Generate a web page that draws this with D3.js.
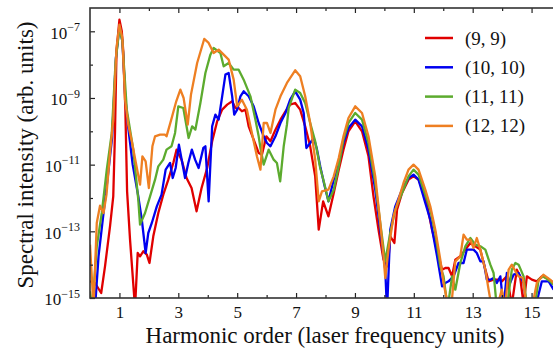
<!DOCTYPE html>
<html>
<head>
<meta charset="utf-8">
<script src="https://cdn.jsdelivr.net/npm/d3@7"></script>
<style>
  body { margin: 0; background: #fff; }
  svg text { font-family: "Liberation Serif", "Times New Roman", serif; fill: #111; }
</style>
</head>
<body>
<svg width="553" height="351"></svg>
<script>
// DATA: harmonic order and log10 of spectral intensity

const labels = ["(9, 9)", "(10, 10)", "(11, 11)", "(12, 12)"];
const colors = ["#e00000", "#0000f0", "#5cab2e", "#ee7f22"];

const redX = [0, 0.17, 0.38, 0.51, 0.68, 0.79, 0.85, 0.9, 1.0, 1.08, 1.13, 1.2, 1.26, 1.36, 1.53, 1.62, 1.7, 1.81, 1.93, 2.02, 2.15, 2.32, 2.49, 2.66, 2.83, 2.94, 3.11, 3.28, 3.45, 3.62, 3.79, 3.98, 4.15, 4.32, 4.49, 4.66, 4.83, 4.94, 5.05, 5.16, 5.28, 5.39, 5.56, 5.73, 5.84, 5.99, 6.13, 6.3, 6.47, 6.64, 6.8, 6.97, 7.14, 7.31, 7.48, 7.65, 7.77, 7.92, 8.1, 8.28, 8.45, 8.61, 8.78, 9.01, 9.24, 9.46, 9.63, 9.8, 9.97, 10.12, 10.2, 10.34, 10.43, 10.6, 10.82, 10.99, 11.16, 11.39, 11.62, 11.79, 11.96, 12.07, 12.18, 12.3, 12.41, 12.58, 12.75, 12.92, 13.09, 13.26, 13.37, 13.54, 13.71, 13.88, 13.99, 14.16, 14.33, 14.5, 14.61, 14.73, 14.84, 15.01, 15.18, 15.35, 15.52, 15.75];
const redLog = [-14.5, -14.55, -14.85, -14.05, -12.85, -11.95, -10.0, -7.6, -6.65, -7.0, -7.6, -9.3, -11.8, -13.25, -15.3, -13.65, -13.75, -13.6, -13.7, -13.95, -13.15, -12.45, -11.9, -11.45, -10.95, -10.55, -10.85, -11.4, -11.7, -12.4, -11.7, -11.1, -10.3, -9.7, -9.35, -9.2, -9.1, -9.3, -9.3, -9.4, -9.35, -9.85, -10.25, -10.65, -10.7, -10.15, -10.3, -9.95, -9.65, -9.4, -9.2, -9.15, -9.35, -9.85, -10.45, -11.35, -12.95, -12.1, -12.55, -11.85, -11.15, -10.55, -10.0, -9.7, -10.0, -10.75, -11.95, -12.95, -13.85, -14.05, -13.15, -13.35, -12.35, -11.85, -11.45, -11.35, -11.45, -11.95, -12.95, -13.55, -14.15, -14.1, -14.1, -14.35, -13.85, -13.75, -13.55, -13.35, -13.45, -13.55, -13.95, -14.5, -14.45, -14.45, -14.5, -14.35, -15.2, -14.15, -14.35, -15.2, -14.35, -14.45, -14.5, -14.35, -14.4, -14.55];

const blueX = [0, 0.17, 0.29, 0.46, 0.6, 0.75, 0.88, 1.0, 1.1, 1.2, 1.3, 1.45, 1.64, 1.76, 1.89, 1.98, 2.1, 2.27, 2.43, 2.57, 2.72, 2.81, 2.91, 3.02, 3.23, 3.34, 3.46, 3.57, 3.69, 3.85, 3.92, 4.03, 4.15, 4.26, 4.37, 4.49, 4.6, 4.71, 4.83, 4.9, 5.0, 5.11, 5.22, 5.39, 5.56, 5.73, 5.9, 6.01, 6.13, 6.3, 6.47, 6.64, 6.8, 6.97, 7.14, 7.26, 7.35, 7.48, 7.6, 7.7, 7.82, 7.96, 8.1, 8.28, 8.45, 8.61, 8.78, 9.01, 9.24, 9.46, 9.69, 9.86, 10.03, 10.09, 10.2, 10.37, 10.6, 10.82, 10.99, 11.16, 11.39, 11.56, 11.79, 11.96, 12.07, 12.18, 12.35, 12.52, 12.69, 12.8, 12.92, 13.03, 13.14, 13.26, 13.37, 13.48, 13.6, 13.71, 13.82, 13.94, 14.05, 14.16, 14.27, 14.39, 14.56, 14.73, 14.84, 15.18, 15.35, 15.58, 15.75];
const blueLog = [-15.5, -15.3, -13.75, -12.45, -11.4, -10.2, -7.8, -6.85, -7.3, -9.0, -9.9, -11.0, -11.95, -12.65, -13.65, -13.05, -12.75, -12.25, -11.9, -11.15, -10.95, -11.4, -11.1, -10.4, -11.4, -10.95, -10.55, -10.85, -11.1, -10.5, -10.45, -12.1, -9.85, -9.5, -9.65, -8.95, -8.3, -8.25, -8.95, -9.5, -9.35, -8.95, -8.8, -8.95, -9.25, -9.75, -10.15, -10.35, -10.45, -10.15, -9.75, -9.45, -9.05, -8.8, -9.05, -9.45, -10.5, -10.35, -10.2, -10.5, -11.05, -11.6, -12.1, -11.45, -10.95, -10.35, -9.9, -9.65, -9.85, -10.55, -11.75, -12.95, -14.15, -15.4, -12.95, -12.25, -11.75, -11.4, -11.3, -11.45, -12.15, -12.65, -13.75, -14.65, -14.55, -14.5, -14.35, -13.95, -13.95, -13.55, -13.55, -13.55, -13.65, -13.9, -13.9, -14.45, -14.45, -14.4, -14.55, -14.35, -15.3, -14.25, -14.55, -14.3, -14.25, -14.55, -15.3, -15.1, -14.5, -14.5, -14.75];

const greenX = [0, 0.08, 0.23, 0.4, 0.57, 0.74, 0.87, 1.0, 1.1, 1.25, 1.47, 1.64, 1.7, 1.87, 2.04, 2.21, 2.32, 2.49, 2.6, 2.77, 2.89, 3.0, 3.17, 3.35, 3.47, 3.58, 3.75, 3.92, 4.09, 4.2, 4.43, 4.54, 4.71, 4.88, 5.05, 5.22, 5.45, 5.62, 5.73, 5.79, 5.9, 6.07, 6.24, 6.35, 6.46, 6.58, 6.69, 6.75, 6.97, 7.14, 7.31, 7.48, 7.65, 7.82, 7.94, 8.1, 8.28, 8.45, 8.61, 8.78, 9.01, 9.24, 9.46, 9.69, 9.86, 10.03, 10.2, 10.37, 10.6, 10.82, 10.99, 11.16, 11.39, 11.56, 11.73, 11.9, 12.01, 12.15, 12.3, 12.41, 12.58, 12.75, 12.92, 13.09, 13.26, 13.43, 13.6, 13.71, 13.82, 14.16, 14.33, 14.45, 14.56, 14.73, 14.84, 15.1, 15.24, 15.4, 15.63, 15.75];
const greenLog = [-14.8, -15.3, -13.45, -12.45, -11.15, -10.05, -7.9, -6.9, -7.3, -9.35, -10.55, -12.05, -12.8, -12.45, -11.95, -11.45, -11.05, -10.85, -10.55, -10.45, -10.05, -9.25, -9.3, -10.2, -9.85, -9.95, -9.15, -8.25, -7.7, -7.5, -7.65, -8.05, -7.95, -8.15, -8.15, -8.45, -8.95, -9.65, -10.15, -10.5, -11.0, -10.55, -10.85, -10.95, -11.5, -10.45, -9.8, -9.3, -8.75, -8.85, -9.15, -9.75, -10.3, -11.1, -11.5, -12.1, -11.75, -11.05, -10.25, -9.75, -9.45, -9.65, -10.35, -11.55, -12.75, -13.9, -13.05, -12.35, -11.85, -11.35, -11.15, -11.3, -11.9, -12.35, -13.05, -14.05, -14.35, -15.3, -14.35, -14.75, -13.95, -13.45, -13.2, -13.4, -13.45, -13.55, -14.0, -14.25, -15.3, -15.3, -14.15, -13.95, -14.0, -14.35, -15.3, -15.3, -14.45, -14.35, -14.5, -14.6];

const orangeX = [0, 0.12, 0.23, 0.34, 0.46, 0.56, 0.68, 0.79, 0.9, 1.0, 1.1, 1.19, 1.3, 1.41, 1.58, 1.7, 1.78, 1.89, 2.0, 2.12, 2.21, 2.38, 2.55, 2.6, 2.76, 2.93, 3.07, 3.18, 3.32, 3.43, 3.64, 3.88, 4.03, 4.2, 4.37, 4.54, 4.71, 4.88, 5.0, 5.16, 5.33, 5.5, 5.67, 5.79, 5.9, 6.01, 6.13, 6.3, 6.47, 6.69, 6.97, 7.14, 7.31, 7.48, 7.65, 7.77, 7.88, 8.1, 8.28, 8.45, 8.61, 8.78, 9.01, 9.24, 9.46, 9.69, 9.86, 9.97, 10.03, 10.14, 10.31, 10.48, 10.65, 10.82, 10.99, 11.16, 11.39, 11.56, 11.73, 11.9, 12.01, 12.18, 12.3, 12.41, 12.58, 12.69, 12.8, 12.92, 13.03, 13.14, 13.26, 13.43, 13.54, 13.65, 13.82, 13.99, 14.1, 14.22, 14.33, 14.45, 14.56, 14.7, 14.84, 15.01, 15.18, 15.4, 15.63, 15.75];
const orangeLog = [-13.4, -15.3, -12.75, -12.23, -12.45, -11.9, -10.65, -9.65, -7.5, -6.8, -7.2, -9.05, -9.8, -10.25, -11.05, -11.6, -10.75, -10.9, -11.7, -10.45, -10.15, -10.1, -10.1, -10.15, -9.65, -9.1, -8.75, -9.0, -9.8, -8.9, -7.95, -7.23, -7.35, -7.65, -7.55, -7.7, -7.85, -8.45, -9.25, -9.05, -9.35, -10.05, -10.75, -11.15, -9.75, -9.75, -10.05, -9.35, -8.95, -8.55, -8.17, -8.35, -8.95, -9.75, -10.85, -12.1, -11.8, -11.75, -11.35, -10.8, -10.15, -9.6, -9.25, -9.45, -10.15, -11.35, -12.75, -13.75, -14.4, -13.55, -12.55, -12.05, -11.55, -11.15, -11.0, -11.15, -11.75, -12.25, -12.95, -13.85, -14.55, -15.3, -15.0, -13.9, -13.75, -13.1, -13.25, -13.25, -13.5, -13.2, -13.55, -14.15, -14.75, -15.3, -15.3, -14.75, -15.3, -14.15, -14.0, -14.2, -14.35, -14.4, -15.3, -15.3, -14.55, -14.3, -14.45, -14.55];

const majorX = [1, 3, 5, 7, 9, 11, 13, 15];
const minorX = [2, 4, 6, 8, 10, 12, 14, 16];
const majorYExp = [-15, -13, -11, -9, -7];
const minorYExp = [-14, -12, -10, -8];

// SETUP
const svg = d3.select("svg");
const plot = { left: 90, right: 561, top: 8, bottom: 298 };
const serif = '"Liberation Serif", "Times New Roman", serif';

const xScale = d3.scaleLinear().domain([0, 16]).range([plot.left, plot.right]);
const yScale = d3.scaleLog().domain([1e-15, 5e-7]).range([plot.bottom, plot.top]);

svg.append("clipPath").attr("id", "clip")
  .append("rect")
  .attr("x", plot.left).attr("y", plot.top)
  .attr("width", plot.right - plot.left).attr("height", plot.bottom - plot.top);

// curves
const series = [
  [redX, redLog],
  [blueX, blueLog],
  [greenX, greenLog],
  [orangeX, orangeLog],
].map(([xs, ls]) => d3.zip(xs, ls.map((e) => Math.pow(10, e))));

const line = d3.line().x((d) => xScale(d[0])).y((d) => yScale(d[1]));

svg.append("g").attr("clip-path", "url(#clip)")
  .selectAll("path")
  .data(series)
  .enter()
  .append("path")
  .attr("d", line)
  .attr("fill", "none")
  .attr("stroke", (d, i) => colors[i])
  .attr("stroke-width", 2.3)
  .attr("stroke-linejoin", "round");

// axes (ticks point inward)
function styleAxis(g) {
  g.select(".domain").remove();
  g.attr("font-family", serif).attr("font-size", 17);
  g.selectAll("line").attr("stroke", "#222").attr("stroke-width", 1.2);
}
// tick-only axes: drop the empty labels
function ticksOnly(g) {
  styleAxis(g);
  g.selectAll("text").remove();
}

svg.append("g")
  .attr("transform", `translate(0,${plot.bottom})`)
  .call(d3.axisBottom(xScale).tickValues(majorX).tickSize(-5).tickPadding(8).tickFormat(d3.format("d")))
  .call(styleAxis);
svg.append("g")
  .attr("transform", `translate(0,${plot.bottom})`)
  .call(d3.axisBottom(xScale).tickValues(minorX).tickSize(-3))
  .call(ticksOnly);
svg.append("g")
  .attr("transform", `translate(0,${plot.top})`)
  .call(d3.axisTop(xScale).tickValues(majorX).tickSize(-5))
  .call(ticksOnly);
svg.append("g")
  .attr("transform", `translate(0,${plot.top})`)
  .call(d3.axisTop(xScale).tickValues(minorX).tickSize(-3))
  .call(ticksOnly);

const yAxis = svg.append("g")
  .attr("transform", `translate(${plot.left},0)`)
  .call(d3.axisLeft(yScale).tickValues(majorYExp.map((e) => Math.pow(10, e))).tickSize(-5).tickPadding(10))
  .call(styleAxis);
svg.append("g")
  .attr("transform", `translate(${plot.left},0)`)
  .call(d3.axisLeft(yScale).tickValues(minorYExp.map((e) => Math.pow(10, e))).tickSize(-3))
  .call(ticksOnly);

yAxis.selectAll(".tick text").each(function (d) {
  const t = d3.select(this).text("").attr("dy", "0.4em");
  t.append("tspan").text("10");
  t.append("tspan")
    .attr("dy", -7.5)
    .attr("font-size", 12)
    .text("\u2212" + Math.abs(Math.round(Math.log10(d))));
});

// frame
svg.append("rect")
  .attr("x", plot.left).attr("y", plot.top)
  .attr("width", plot.right - plot.left).attr("height", plot.bottom - plot.top)
  .attr("fill", "none").attr("stroke", "#333").attr("stroke-width", 1.6);

// axis labels
svg.append("text")
  .attr("x", 325).attr("y", 342.5)
  .attr("text-anchor", "middle").attr("font-size", 23)
  .text("Harmonic order (laser frequency units)");
svg.append("text")
  .attr("transform", "translate(33,155) rotate(-90)")
  .attr("text-anchor", "middle").attr("font-size", 23)
  .text("Spectral intensity (arb. units)");

// legend
const legend = svg.append("g");
labels.forEach((lab, i) => {
  const y = 38 + i * 29.3;
  legend.append("line")
    .attr("x1", 425).attr("x2", 453).attr("y1", y).attr("y2", y)
    .attr("stroke", colors[i]).attr("stroke-width", 2.5);
  legend.append("text")
    .attr("x", 465).attr("y", y + 6.5)
    .attr("font-size", 19)
    .text(lab);
});
</script>
</body>
</html>
